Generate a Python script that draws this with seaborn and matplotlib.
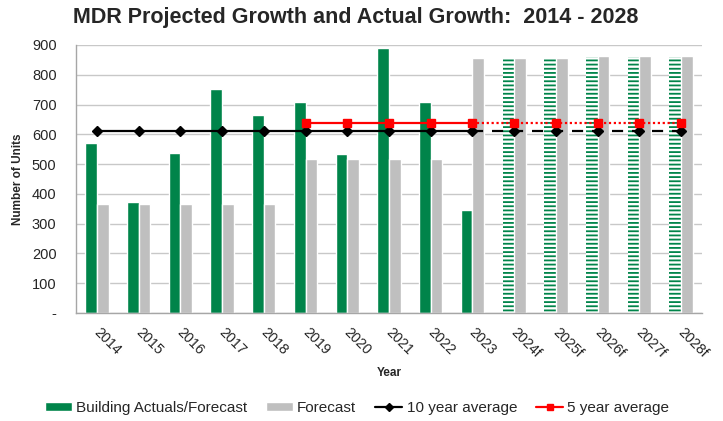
import numpy as np
import pandas as pd
import matplotlib
matplotlib.use("Agg")
import matplotlib.pyplot as plt
import matplotlib.transforms as mtransforms
from matplotlib.lines import Line2D
from matplotlib.patches import Patch
from matplotlib.ticker import FuncFormatter, FixedLocator
import seaborn as sns

years = ["2014", "2015", "2016", "2017", "2018", "2019", "2020", "2021",
         "2022", "2023", "2024f", "2025f", "2026f", "2027f", "2028f"]
building = [570, 373, 537, 752, 665, 710, 535, 890, 710, 345,
            855, 855, 860, 860, 860]
forecast = [365, 365, 365, 365, 365, 517, 517, 517, 517, 855,
            855, 855, 862, 862, 862]
ten_year_avg = [610, 610, 610, 610, 610, 610, 610, 610, 610, 610,
                610, 610, 610, 610, 610]
five_year_avg = [np.nan, np.nan, np.nan, np.nan, np.nan, 638, 638, 638, 638, 638,
                 638, 638, 638, 638, 638]
n_actual = 10  # years with recorded building activity

GREEN = "#00844A"
GREY = "#BFBFBF"
RED = "#FF0000"

sns.set_style("white")
plt.rcParams["font.family"] = ["Liberation Sans", "DejaVu Sans"]
plt.rcParams["hatch.linewidth"] = 1.3

df = pd.DataFrame({
    "Year": years * 2,
    "Units": building + forecast,
    "Series": ["Building Actuals/Forecast"] * len(years) + ["Forecast"] * len(years),
})

fig = plt.figure(figsize=(7.23, 4.21), dpi=100)
ax = fig.add_axes([76 / 723, 1 - 313 / 421, 626 / 723, (313 - 45) / 421])

sns.barplot(data=df, x="Year", y="Units", hue="Series", order=years,
            palette=[GREEN, GREY], width=0.56, saturation=1, legend=False, ax=ax)

# projected building years drawn with horizontal stripes
for bar in ax.containers[0][n_actual:]:
    bar.set_facecolor("white")
    bar.set_edgecolor(GREEN)
    bar.set_hatch("----")
    bar.set_linewidth(0)

x = np.arange(len(years))
split = n_actual - 1
ax.plot(x[:split + 1], ten_year_avg[:split + 1], color="black", lw=1.6, zorder=4)
ax.plot(x[split:], ten_year_avg[split:], color="black", lw=1.6, ls=(0, (5, 4)), zorder=4)
ax.plot(x, ten_year_avg, ls="none", marker="D", ms=5.5, color="black", zorder=5)
ax.plot(x[5:split + 1], five_year_avg[5:split + 1], color=RED, lw=1.6, zorder=4)
ax.plot(x[split:], five_year_avg[split:], color=RED, lw=1.6, ls=(0, (1, 1.2)), zorder=4)
ax.plot(x, five_year_avg, ls="none", marker="s", ms=6, color=RED, zorder=5)

ax.set_ylim(0, 900)
ax.set_xlim(-0.5, len(years) - 0.5)
ax.set_yticks(np.arange(0, 901, 100))
ax.yaxis.set_major_formatter(FuncFormatter(lambda v, p: "-" if v == 0 else f"{int(v)}"))
ax.yaxis.grid(True, color="#C8C8C8", lw=1)
ax.set_axisbelow(True)

for side in ("top", "right"):
    ax.spines[side].set_visible(False)
for side in ("left", "bottom"):
    ax.spines[side].set_color("#A6A6A6")
    ax.spines[side].set_linewidth(1)

ax.tick_params(axis="y", which="major", length=5, color="#A6A6A6", labelsize=10.5, pad=9)
ax.tick_params(axis="x", which="major", length=0, labelsize=10.3, pad=9)
ax.xaxis.set_minor_locator(FixedLocator(np.arange(-0.5, len(years), 1)))
ax.tick_params(axis="x", which="minor", length=5, color="#A6A6A6")
shift = mtransforms.ScaledTranslation(4 / 100, 0, fig.dpi_scale_trans)
for lab in ax.get_xticklabels():
    lab.set_rotation(-45)
    lab.set_ha("left")
    lab.set_va("top")
    lab.set_rotation_mode("anchor")
    lab.set_transform(lab.get_transform() + shift)

ax.set_xlabel("Year", fontsize=8.5, fontweight="bold")
ax.xaxis.set_label_coords(0.5, (313 - 373) / 268)
ax.xaxis.label.set_va("center")
ax.set_ylabel("Number of Units", fontsize=8.5, fontweight="bold")
ax.yaxis.set_label_coords((18 - 76) / 626, 0.5)
ax.yaxis.label.set_va("center")

fig.text(356 / 723, 1 - 17 / 421, "MDR Projected Growth and Actual Growth:  2014 - 2028",
         ha="center", va="center", fontsize=15.5, fontweight="bold")

handles = [
    Patch(facecolor=GREEN, label="Building Actuals/Forecast"),
    Patch(facecolor=GREY, label="Forecast"),
    Line2D([], [], color="black", lw=1.6, marker="D", ms=4, label="10 year average"),
    Line2D([], [], color=RED, lw=1.6, marker="s", ms=4, label="5 year average"),
]
fig.legend(handles=handles, loc="center", bbox_to_anchor=(357 / 723, 1 - 408 / 421),
           ncol=4, frameon=False, fontsize=11, handlelength=1.77, handleheight=0.45,
           columnspacing=1.25, handletextpad=0.27)

fig.savefig("out.png", dpi=100)
